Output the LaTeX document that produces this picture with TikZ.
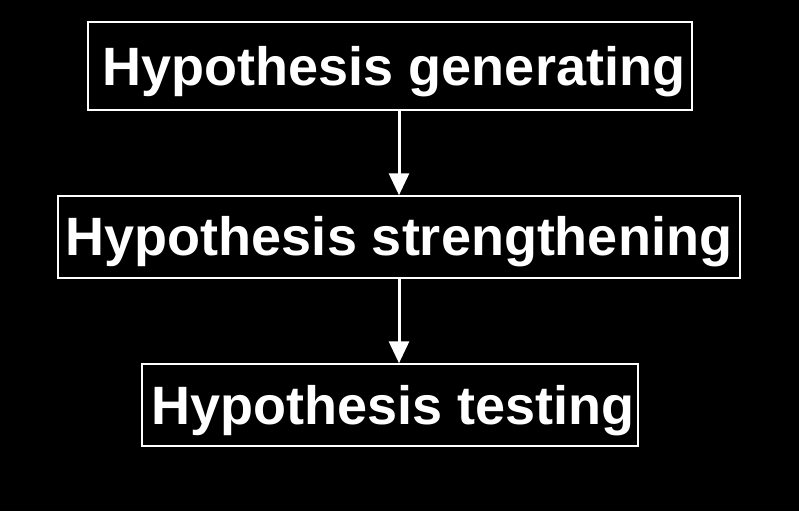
\documentclass[tikz,border=0pt]{standalone}
\usepackage{fontspec}
\setmainfont{Liberation Sans}
\usetikzlibrary{arrows.meta}
\begin{document}
\begin{tikzpicture}[x=1pt,y=-1pt,
  box/.style={draw=white,line width=1.5pt,fill=black},
  lbl/.style={text=white,font=\bfseries\fontsize{54}{58}\selectfont,inner sep=0pt},
  arr/.style={draw=white,line width=3pt,-{Triangle[length=22pt,width=20pt]}}]
\fill[black] (0,0) rectangle (799,511);
\useasboundingbox (0,0) rectangle (799,511);
\node[box,minimum width=604pt,minimum height=88pt] (a) at (390,66) {};
\node[box,minimum width=682pt,minimum height=82pt] (b) at (399,237) {};
\node[box,minimum width=496pt,minimum height=82pt] (c) at (390,405) {};
\node[lbl] (ta) at (394,72) {Hypothesis generating};
\node[lbl] (tb) at (399,242) {Hypothesis strengthening};
\node[lbl] (tc) at (393,411) {Hypothesis testing};
\draw[arr] (a.south -| 399,0) -- (b.north -| 399,0);
\draw[arr] (b.south -| 399,0) -- (c.north -| 399,0);
\end{tikzpicture}
\end{document}
